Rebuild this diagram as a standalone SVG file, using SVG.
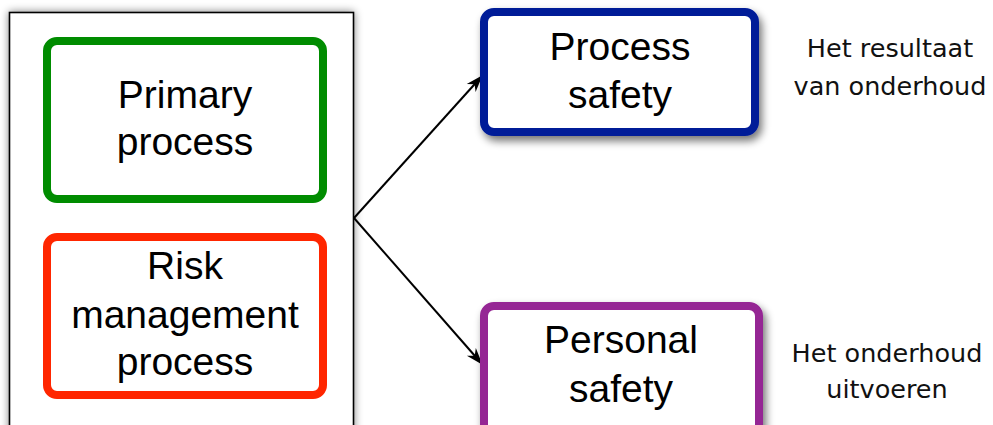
<svg xmlns="http://www.w3.org/2000/svg" width="993" height="425" viewBox="0 0 993 425">
  <defs>
    <filter id="shadow" x="-20%" y="-20%" width="140%" height="150%">
      <feGaussianBlur in="SourceAlpha" stdDeviation="4"/>
      <feOffset dx="3" dy="5" result="b"/>
      <feComponentTransfer><feFuncA type="linear" slope="0.55"/></feComponentTransfer>
      <feMerge><feMergeNode/><feMergeNode in="SourceGraphic"/></feMerge>
    </filter>
    <filter id="haze" x="-10%" y="-10%" width="120%" height="120%">
      <feGaussianBlur in="SourceAlpha" stdDeviation="4"/>
      <feComponentTransfer><feFuncA type="linear" slope="0.5"/></feComponentTransfer>
      <feMerge><feMergeNode/><feMergeNode in="SourceGraphic"/></feMerge>
    </filter>
    <marker id="arrow" viewBox="0 0 20 16" refX="19" refY="8" markerWidth="17" markerHeight="13.6" markerUnits="userSpaceOnUse" orient="auto">
      <path d="M0,1 L20,8 L0,15 L6,8 Z" fill="#000"/>
    </marker>
    <style>
      .box { fill: #fff; stroke-width: 8; }
      .label { font-family: "Liberation Sans", Arial, sans-serif; font-size: 39px; fill: #000; text-anchor: middle; }
      .note { font-family: "DejaVu Sans", "Liberation Sans", sans-serif; font-size: 25.5px; fill: #111; text-anchor: middle; }
      .link { fill: none; stroke: #000; stroke-width: 2; }
    </style>
  </defs>

  <rect width="993" height="425" fill="#fff"/>

  <g id="container">
    <rect x="9.5" y="12.5" width="344" height="430" fill="#fff" stroke="#000" stroke-width="1.6" filter="url(#haze)"/>
  </g>

  <g id="primary-process">
    <rect class="box" x="47" y="41" width="276" height="158" rx="10" stroke="#008c00"/>
    <text class="label" x="185" y="108">Primary</text>
    <text class="label" x="185" y="155">process</text>
  </g>

  <g id="risk-management-process">
    <rect class="box" x="47" y="237" width="276" height="158" rx="10" stroke="#ff2600"/>
    <text class="label" x="185" y="279">Risk</text>
    <text class="label" x="185" y="328">management</text>
    <text class="label" x="185" y="375">process</text>
  </g>

  <g id="connectors">
    <path class="link" d="M354,218 L482,76" marker-end="url(#arrow)"/>
    <path class="link" d="M354,218 L482,364" marker-end="url(#arrow)"/>
  </g>

  <g id="process-safety">
    <rect class="box" x="484" y="12" width="271" height="120" rx="10" stroke="#001c98" filter="url(#shadow)"/>
    <text class="label" x="620" y="60">Process</text>
    <text class="label" x="620" y="108">safety</text>
  </g>

  <g id="personal-safety">
    <rect class="box" x="484" y="306" width="275" height="150" rx="10" stroke="#952594" filter="url(#shadow)"/>
    <text class="label" x="621" y="353">Personal</text>
    <text class="label" x="621" y="402">safety</text>
  </g>

  <g id="notes">
    <text class="note" x="890" y="57">Het resultaat</text>
    <text class="note" x="890" y="95">van onderhoud</text>
    <text class="note" x="887" y="362">Het onderhoud</text>
    <text class="note" x="887" y="398">uitvoeren</text>
  </g>
</svg>
